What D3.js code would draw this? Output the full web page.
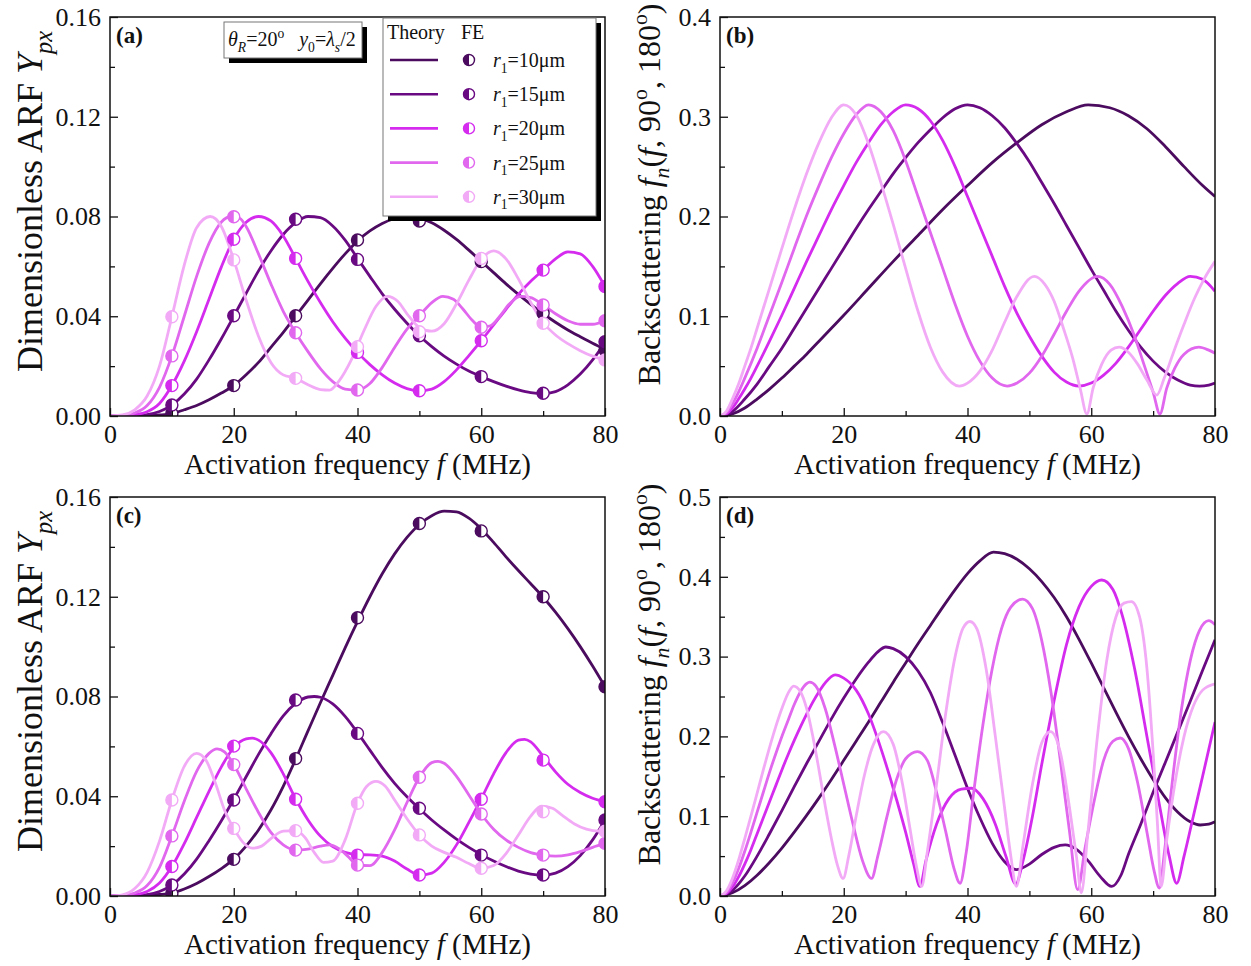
<!DOCTYPE html>
<html>
<head>
<meta charset="utf-8">
<script src="https://cdn.jsdelivr.net/npm/d3@7"></script>
<style>
  html, body { margin: 0; padding: 0; background: #fff; }
  svg text { font-family: "Liberation Serif", "Times New Roman", serif; fill: #111; }
</style>
</head>
<body>
<svg id="chart" width="1251" height="966"></svg>
<script>
// ---------- axis ticks ----------
const freqTicks = [0, 20, 40, 60, 80];
const freqMinor = [10, 30, 50, 70];
const arfTicks = [0, 0.04, 0.08, 0.12, 0.16];
const arfMinor = [0.02, 0.06, 0.10, 0.14];
const backTicksB = [0, 0.1, 0.2, 0.3, 0.4];
const backMinorB = [0.05, 0.15, 0.25, 0.35];
const backTicksD = [0, 0.1, 0.2, 0.3, 0.4, 0.5];
const backMinorD = [0.05, 0.15, 0.25, 0.35, 0.45];

// ---------- series ----------
const radii = ["10", "15", "20", "25", "30"];
const seriesColors = ["#4b0b5e", "#690a82", "#d42bef", "#e067ee", "#f2aaf6"];
const feFreq = [10, 20, 30, 40, 50, 60, 70, 80];

// (a) theory: [f (MHz), Ypx]
const arfA_r10 = [[0,0],[4,0],[6,0.0001],[8,0.0004],[10,0.0010],[12,0.0025],[14,0.0042],[16,0.0065],[18,0.0092],[20,0.0122],[22,0.0165],[24,0.0215],[26,0.0275],[28,0.0335],[30,0.0400],[32,0.0465],[34,0.0530],[36,0.0592],[38,0.0650],[40,0.0702],[42,0.0742],[44,0.0772],[46,0.0792],[48,0.0800],[50,0.0793],[52,0.0775],[54,0.0745],[56,0.0708],[58,0.0665],[60,0.0620],[62,0.0575],[64,0.0530],[66,0.0488],[68,0.0448],[70,0.0410],[72,0.0376],[74,0.0345],[76,0.0318],[78,0.0292],[80,0.0268]];
const arfA_r15 = [[0,0],[4,0.0001],[6,0.0005],[8,0.0018],[10,0.0044],[12,0.0088],[14,0.0148],[16,0.0225],[18,0.0310],[20,0.0400],[22,0.0492],[24,0.0582],[26,0.0662],[28,0.0728],[30,0.0775],[32,0.0800],[34,0.0795],[36,0.0762],[38,0.0705],[40,0.0632],[42,0.0560],[44,0.0490],[46,0.0428],[48,0.0372],[50,0.0322],[52,0.0278],[54,0.0240],[56,0.0208],[58,0.0180],[60,0.0158],[62,0.0138],[64,0.0120],[66,0.0105],[68,0.0094],[70,0.0090],[72,0.0098],[74,0.0125],[76,0.0168],[78,0.0225],[80,0.0295]];
const arfA_r20 = [[0,0],[2,0.0001],[4,0.0005],[6,0.0017],[8,0.0050],[10,0.0122],[12,0.0220],[14,0.0338],[16,0.0468],[18,0.0598],[20,0.0709],[22,0.0777],[24,0.0800],[26,0.0782],[28,0.0722],[30,0.0632],[32,0.0540],[34,0.0455],[36,0.0378],[38,0.0312],[40,0.0255],[42,0.0206],[44,0.0165],[46,0.0132],[48,0.0110],[50,0.0101],[52,0.0108],[54,0.0138],[56,0.0185],[58,0.0242],[60,0.0302],[62,0.0365],[64,0.0428],[66,0.0488],[68,0.0540],[70,0.0585],[72,0.0630],[74,0.0658],[76,0.0650],[78,0.0600],[80,0.0519]];
const arfA_r25 = [[0,0],[2,0.0002],[4,0.0012],[6,0.0042],[8,0.0115],[10,0.0241],[12,0.0400],[14,0.0560],[16,0.0692],[18,0.0778],[19.6,0.0800],[21,0.0792],[22,0.0760],[24,0.0650],[26,0.0530],[28,0.0420],[30,0.0334],[32,0.0258],[34,0.0190],[36,0.0138],[38,0.0108],[40,0.0104],[42,0.0130],[44,0.0195],[46,0.0275],[48,0.0348],[50,0.0402],[52,0.0455],[53.8,0.0480],[55.5,0.0468],[57,0.0430],[58.5,0.0385],[60,0.0356],[61.5,0.0362],[63,0.0400],[64.5,0.0448],[66.3,0.0480],[68,0.0475],[70,0.0445],[72,0.0410],[74,0.0382],[76,0.0368],[78,0.0368],[80,0.0382]];
const arfA_r30 = [[0,0],[2,0.0004],[4,0.0025],[6,0.0080],[8,0.0200],[10,0.0398],[12,0.0605],[14,0.0755],[16.2,0.0800],[18,0.0760],[20,0.0626],[22,0.0465],[24,0.0320],[26,0.0215],[28,0.0165],[30,0.0151],[32,0.0125],[34,0.0106],[35.5,0.0104],[37,0.0140],[39,0.0225],[41,0.0340],[43,0.0440],[44.8,0.0480],[46.5,0.0460],[48,0.0410],[50,0.0355],[52,0.0340],[54,0.0370],[56,0.0450],[58,0.0545],[60,0.0628],[62,0.0662],[64,0.0630],[66,0.0550],[68,0.0455],[70,0.0375],[72,0.0325],[74,0.0290],[76,0.0262],[78,0.0240],[80,0.0225]];

// (a) finite-element points at feFreq
const feA_r10 = [0.0010, 0.0122, 0.0402, 0.0706, 0.0782, 0.0619, 0.0412, 0.0265];
const feA_r15 = [0.0044, 0.0402, 0.0789, 0.0628, 0.0322, 0.0158, 0.0091, 0.0298];
const feA_r20 = [0.0122, 0.0709, 0.0632, 0.0255, 0.0101, 0.0302, 0.0585, 0.0519];
const feA_r25 = [0.0241, 0.0799, 0.0334, 0.0104, 0.0402, 0.0356, 0.0445, 0.0382];
const feA_r30 = [0.0398, 0.0626, 0.0151, 0.0278, 0.0338, 0.0632, 0.0372, 0.0225];

// (b) backscattering form function
const backB_r10 = [[0,0],[2,0.002],[4,0.008],[6,0.017],[8,0.027],[10,0.038],[12,0.050],[14,0.062],[16,0.075],[18,0.088],[20,0.101],[24,0.128],[28,0.155],[32,0.181],[36,0.207],[40,0.231],[44,0.254],[48,0.274],[52,0.292],[56,0.305],[59.5,0.312],[63,0.309],[66,0.301],[69,0.288],[72,0.270],[75,0.250],[78,0.231],[80,0.220]];
const backB_r15 = [[0,0],[2,0.0045],[4,0.017],[6,0.032],[8,0.050],[10,0.068],[12,0.088],[14,0.108],[16,0.128],[18,0.148],[20,0.168],[22,0.188],[24,0.207],[26,0.225],[28,0.243],[30,0.259],[32,0.274],[34,0.287],[36,0.299],[38,0.308],[40,0.312],[42,0.309],[44,0.301],[46,0.289],[48,0.273],[50,0.255],[52,0.234],[54,0.213],[56,0.191],[58,0.169],[60,0.147],[62,0.126],[64,0.105],[66,0.086],[68,0.069],[70,0.055],[72,0.044],[74,0.036],[76,0.031],[77.5,0.030],[79,0.031],[80,0.033]];
const backB_r20 = [[0,0],[1,0.002],[2,0.008],[3,0.017],[4,0.027],[5,0.038],[6,0.050],[8,0.075],[10,0.101],[12,0.128],[14,0.155],[16,0.181],[18,0.207],[20,0.231],[22,0.254],[24,0.274],[26,0.292],[28,0.305],[30,0.312],[32,0.308],[34,0.296],[36,0.276],[38,0.250],[40,0.220],[42,0.190],[44,0.160],[46,0.130],[48,0.103],[50,0.080],[52,0.060],[54,0.044],[56,0.034],[58,0.030],[60,0.033],[62,0.041],[64,0.053],[66,0.069],[68,0.087],[70,0.105],[72,0.121],[74,0.133],[76,0.140],[78,0.137],[80,0.125]];
const backB_r25 = [[0,0],[1,0.003],[2,0.012],[3,0.024],[4,0.038],[6,0.068],[8,0.101],[10,0.134],[12,0.168],[14,0.201],[16,0.231],[18,0.259],[20,0.283],[22,0.302],[24,0.312],[26,0.305],[28,0.286],[30,0.256],[32,0.220],[34,0.184],[36,0.148],[38,0.112],[40,0.080],[42,0.055],[44,0.038],[46.4,0.030],[48,0.033],[50,0.043],[52,0.060],[54,0.082],[56,0.105],[58,0.125],[61,0.140],[63,0.132],[65,0.110],[67,0.080],[68.5,0.052],[70,0.024],[71.1,0.002],[72.2,0.028],[73.5,0.048],[75,0.062],[77.4,0.069],[79,0.066],[80,0.063]];
const backB_r30 = [[0,0],[1,0.0045],[2,0.017],[3,0.032],[4,0.050],[5,0.068],[6,0.088],[8,0.128],[10,0.168],[12,0.207],[14,0.243],[16,0.274],[18,0.299],[20,0.312],[22,0.302],[24,0.273],[26,0.234],[28,0.192],[30,0.148],[32,0.105],[34,0.069],[36,0.044],[38.7,0.030],[40,0.033],[42,0.045],[44,0.066],[46,0.094],[48,0.120],[50.8,0.140],[52.5,0.132],[54,0.115],[55.5,0.088],[57,0.058],[58.2,0.028],[59.3,0.002],[60.3,0.028],[61.7,0.052],[63.2,0.066],[64.5,0.069],[66,0.064],[67.5,0.052],[69,0.036],[70.6,0.021],[71.8,0.038],[73.3,0.064],[75,0.092],[76.7,0.118],[78.3,0.138],[80,0.155]];

// (c) theory
const arfC_r10 = [[0,0],[4,0.0001],[6,0.0003],[8,0.0006],[10,0.0012],[12,0.0028],[14,0.0050],[16,0.0078],[18,0.0110],[20,0.0148],[22,0.0200],[24,0.0265],[26,0.0345],[28,0.0440],[30,0.0548],[32,0.0662],[34,0.0775],[36,0.0885],[38,0.0995],[40,0.1100],[42,0.1200],[44,0.1292],[46,0.1372],[48,0.1438],[50,0.1490],[52,0.1525],[54,0.1543],[56,0.1540],[58,0.1515],[60,0.1472],[62,0.1418],[64,0.1360],[66,0.1305],[68,0.1252],[70,0.1198],[72,0.1138],[74,0.1072],[76,0.1000],[78,0.0922],[80,0.0839]];
const arfC_r15 = [[0,0],[4,0.0001],[6,0.0005],[8,0.0018],[10,0.0044],[12,0.0088],[14,0.0148],[16,0.0222],[18,0.0302],[20,0.0388],[22,0.0478],[24,0.0568],[26,0.0650],[28,0.0722],[30,0.0772],[32,0.0798],[33,0.0800],[34,0.0797],[36,0.0770],[38,0.0720],[40,0.0655],[42,0.0585],[44,0.0515],[46,0.0452],[48,0.0398],[50,0.0350],[52,0.0305],[54,0.0265],[56,0.0228],[58,0.0195],[60,0.0166],[62,0.0140],[64,0.0118],[66,0.0100],[68,0.0088],[70,0.0084],[72,0.0092],[74,0.0118],[76,0.0162],[78,0.0225],[80,0.0305]];
const arfC_r20 = [[0,0],[2,0.0001],[4,0.0005],[6,0.0018],[8,0.0052],[10,0.0118],[12,0.0210],[14,0.0315],[16,0.0420],[18,0.0518],[20,0.0595],[22,0.0630],[23,0.0633],[24,0.0625],[26,0.0575],[28,0.0490],[30,0.0390],[32,0.0305],[34,0.0240],[36,0.0198],[38,0.0175],[40,0.0166],[42,0.0165],[44,0.0160],[46,0.0140],[48,0.0108],[50,0.0084],[52,0.0092],[54,0.0135],[56,0.0205],[58,0.0295],[60,0.0390],[62,0.0490],[64,0.0575],[66,0.0625],[67,0.0628],[68,0.0618],[70,0.0560],[72,0.0498],[74,0.0448],[76,0.0415],[78,0.0392],[80,0.0378]];
const arfC_r25 = [[0,0],[2,0.0002],[4,0.0012],[6,0.0042],[8,0.0115],[10,0.0241],[12,0.0380],[14,0.0500],[16,0.0572],[17.3,0.0590],[18.5,0.0578],[20,0.0527],[22,0.0430],[24,0.0335],[26,0.0255],[28,0.0205],[30,0.0184],[32,0.0188],[34,0.0200],[35.5,0.0205],[37,0.0190],[38.5,0.0158],[40,0.0124],[42,0.0122],[44,0.0175],[46,0.0265],[48,0.0375],[50,0.0476],[52,0.0535],[53,0.0540],[54,0.0532],[56,0.0480],[58,0.0405],[60,0.0329],[62,0.0268],[64,0.0225],[66,0.0195],[68,0.0174],[70,0.0164],[72,0.0160],[74,0.0165],[76,0.0178],[78,0.0195],[80,0.0211]];
const arfC_r30 = [[0,0],[2,0.0005],[4,0.0030],[6,0.0095],[8,0.0220],[10,0.0385],[12,0.0520],[14,0.0572],[15.5,0.0545],[17,0.0455],[18.5,0.0345],[20,0.0271],[21.5,0.0215],[23,0.0192],[24.5,0.0200],[26,0.0230],[28,0.0260],[30,0.0262],[31.5,0.0235],[33,0.0175],[34.5,0.0135],[36,0.0140],[38,0.0225],[40,0.0372],[41.5,0.0440],[43,0.0460],[44.5,0.0440],[46,0.0385],[48,0.0310],[50,0.0245],[52,0.0200],[54,0.0175],[56,0.0155],[58,0.0130],[60,0.0111],[62,0.0122],[64,0.0170],[66,0.0245],[68,0.0320],[69.7,0.0360],[71.5,0.0352],[73,0.0325],[75,0.0290],[77,0.0268],[79,0.0260],[80,0.0260]];

// (c) finite-element points
const feC_r10 = [0.0010, 0.0147, 0.0551, 0.1116, 0.1494, 0.1464, 0.1200, 0.0839];
const feC_r15 = [0.0044, 0.0385, 0.0786, 0.0652, 0.0352, 0.0164, 0.0084, 0.0305];
const feC_r20 = [0.0118, 0.0601, 0.0388, 0.0164, 0.0084, 0.0388, 0.0545, 0.0378];
const feC_r25 = [0.0241, 0.0527, 0.0184, 0.0124, 0.0476, 0.0329, 0.0164, 0.0211];
const feC_r30 = [0.0385, 0.0271, 0.0262, 0.0372, 0.0245, 0.0111, 0.0338, 0.0260];

// (d) backscattering form function
const backD_r10 = [[0,0],[2,0.004],[4,0.013],[6,0.026],[8,0.042],[10,0.060],[12,0.080],[14,0.101],[16,0.123],[18,0.146],[20,0.170],[22,0.194],[24,0.218],[26,0.243],[28,0.268],[30,0.292],[32,0.316],[34,0.339],[36,0.362],[38,0.384],[40,0.404],[42,0.420],[44.2,0.431],[46,0.429],[48,0.422],[50,0.410],[52,0.394],[54,0.374],[56,0.350],[58,0.322],[60,0.292],[62,0.261],[64,0.230],[66,0.200],[68,0.172],[70,0.146],[72,0.123],[74,0.105],[76,0.093],[77.6,0.089],[79,0.090],[80,0.093]];
const backD_r15 = [[0,0],[2,0.007],[4,0.025],[6,0.050],[8,0.078],[10,0.107],[12,0.137],[14,0.166],[16,0.194],[18,0.222],[20,0.248],[22,0.272],[24,0.293],[25.5,0.306],[26.8,0.312],[28,0.310],[30,0.300],[32,0.282],[34,0.255],[36,0.217],[38,0.176],[40,0.135],[42,0.098],[44,0.066],[46,0.043],[47.9,0.033],[50,0.040],[52,0.052],[54,0.061],[55.8,0.064],[57.5,0.059],[59.5,0.044],[61.5,0.024],[63.3,0.012],[64.8,0.026],[66,0.052],[68,0.090],[70,0.130],[72,0.168],[74,0.206],[76,0.244],[78,0.283],[80,0.321]];
const backD_r20 = [[0,0],[1,0.003],[2,0.011],[3,0.024],[4,0.040],[5,0.058],[6,0.078],[7,0.098],[8,0.118],[9,0.138],[10,0.158],[11,0.177],[12,0.195],[13,0.212],[14,0.228],[15,0.243],[16,0.256],[17,0.267],[18.6,0.277],[20,0.273],[22,0.258],[24,0.228],[26,0.185],[28,0.135],[30,0.080],[31.3,0.040],[32.3,0.012],[33.3,0.045],[35,0.090],[37,0.122],[39,0.134],[40.7,0.135],[42.5,0.122],[44.5,0.090],[46.2,0.050],[47.8,0.015],[49,0.045],[50.5,0.100],[52,0.165],[54,0.245],[56,0.315],[58,0.362],[60,0.388],[61.7,0.396],[63.5,0.384],[65,0.352],[67,0.285],[69,0.200],[71,0.115],[72.6,0.050],[73.8,0.016],[75,0.050],[76.5,0.100],[78,0.150],[80,0.218]];
const backD_r25 = [[0,0],[1,0.004],[2,0.016],[3,0.034],[4,0.056],[5,0.080],[6,0.105],[7,0.130],[8,0.155],[9,0.178],[10,0.200],[11,0.220],[12,0.240],[13,0.256],[14,0.266],[14.5,0.268],[15.5,0.263],[17,0.235],[18.5,0.190],[20,0.140],[21.5,0.090],[23,0.045],[24.5,0.022],[25.5,0.050],[27,0.100],[28.5,0.145],[30,0.172],[31.9,0.181],[33.5,0.170],[35,0.130],[36.5,0.080],[37.8,0.035],[38.8,0.016],[39.8,0.055],[41,0.130],[42.5,0.215],[44,0.285],[45.5,0.335],[47,0.362],[48.9,0.372],[50.5,0.360],[52,0.320],[53.5,0.255],[55,0.170],[56.5,0.080],[57.8,0.008],[59,0.060],[60.5,0.120],[62,0.170],[63.5,0.194],[64.7,0.198],[66,0.185],[67.5,0.142],[69,0.080],[70.2,0.030],[71,0.010],[71.9,0.060],[73.2,0.150],[74.6,0.235],[76,0.295],[77.5,0.333],[79,0.345],[80,0.340]];
const backD_r30 = [[0,0],[1,0.006],[2,0.022],[3,0.045],[4,0.072],[5,0.100],[6,0.129],[7,0.158],[8,0.186],[9,0.212],[10,0.235],[11,0.254],[11.9,0.263],[13,0.256],[14,0.235],[15,0.200],[16,0.158],[17,0.113],[18,0.072],[19,0.038],[19.9,0.022],[20.8,0.050],[22,0.100],[23.3,0.150],[24.8,0.190],[26.4,0.206],[28,0.190],[29.5,0.140],[30.8,0.080],[31.8,0.035],[32.6,0.012],[33.5,0.055],[35,0.140],[36.5,0.230],[38,0.300],[39.3,0.336],[40.4,0.344],[41.5,0.335],[43,0.285],[44.5,0.200],[46,0.110],[47,0.050],[47.9,0.012],[49,0.065],[50.5,0.140],[52,0.192],[53.4,0.206],[55,0.180],[56.5,0.110],[57.6,0.050],[58.4,0.004],[59.4,0.075],[61,0.200],[62.5,0.295],[64,0.350],[65.3,0.367],[66.5,0.369],[67.8,0.350],[69,0.285],[70,0.180],[70.7,0.090],[71.3,0.012],[72.2,0.070],[73.5,0.140],[75,0.200],[76.5,0.238],[78,0.258],[80,0.266]];

// ---------- layout ----------
const PW = 495, PH = 399;
const svg = d3.select("#chart");

const panels = [
  { tag: "(a)", left: 110, top: 17,  kind: "arf",  yMax: 0.16, ticks: arfTicks,   minor: arfMinor,   fmt: ".2f",
    curves: [arfA_r10, arfA_r15, arfA_r20, arfA_r25, arfA_r30], fe: [feA_r10, feA_r15, feA_r20, feA_r25, feA_r30] },
  { tag: "(b)", left: 720, top: 17,  kind: "back", yMax: 0.4,  ticks: backTicksB, minor: backMinorB, fmt: ".1f",
    curves: [backB_r10, backB_r15, backB_r20, backB_r25, backB_r30], fe: null },
  { tag: "(c)", left: 110, top: 497, kind: "arf",  yMax: 0.16, ticks: arfTicks,   minor: arfMinor,   fmt: ".2f",
    curves: [arfC_r10, arfC_r15, arfC_r20, arfC_r25, arfC_r30], fe: [feC_r10, feC_r15, feC_r20, feC_r25, feC_r30] },
  { tag: "(d)", left: 720, top: 497, kind: "back", yMax: 0.5,  ticks: backTicksD, minor: backMinorD, fmt: ".1f",
    curves: [backD_r10, backD_r15, backD_r20, backD_r25, backD_r30], fe: null }
];

// text with italic / sub / superscript runs
function richText(sel, parts, size) {
  let shift = 0;
  parts.forEach(p => {
    const ts = sel.append("tspan").text(p.t);
    const target = p.sub ? size * 0.28 : (p.sup ? -size * 0.4 : 0);
    if (target - shift !== 0) ts.attr("dy", target - shift);
    shift = target;
    if (p.sub || p.sup) ts.attr("font-size", size * 0.68);
    if (p.it) ts.attr("font-style", "italic");
  });
  return sel;
}

// half-filled circle marker (left half solid)
function halfMarker(g, cx, cy, r, color) {
  g.append("circle").attr("cx", cx).attr("cy", cy).attr("r", r)
    .attr("fill", "#fff").attr("stroke", color).attr("stroke-width", 1.4);
  g.append("path")
    .attr("d", `M${cx},${cy - r} A${r},${r} 0 0 0 ${cx},${cy + r} Z`)
    .attr("fill", color);
}

panels.forEach((p, i) => {
  const g = svg.append("g").attr("transform", `translate(${p.left},${p.top})`);
  const x = d3.scaleLinear().domain([0, 80]).range([0, PW]);
  const y = d3.scaleLinear().domain([0, p.yMax]).range([PH, 0]);

  const clipId = "clip" + i;
  g.append("clipPath").attr("id", clipId)
    .append("rect").attr("x", 0).attr("y", 0).attr("width", PW).attr("height", PH);
  const plot = g.append("g").attr("clip-path", `url(#${clipId})`);

  const line = d3.line().x(d => x(d[0])).y(d => y(d[1])).curve(d3.curveMonotoneX);
  p.curves.forEach((c, k) => {
    plot.append("path").datum(c).attr("d", line)
      .attr("fill", "none").attr("stroke", seriesColors[k]).attr("stroke-width", 2.8)
      .attr("stroke-linejoin", "round");
  });

  if (p.fe) {
    p.fe.forEach((vals, k) => {
      vals.forEach((v, j) => halfMarker(plot, x(feFreq[j]), y(v), 6, seriesColors[k]));
    });
  }

  // axes with inward ticks
  g.append("g").attr("transform", `translate(0,${PH})`)
    .call(d3.axisBottom(x).tickValues(freqTicks).tickSizeInner(-8).tickSizeOuter(0).tickPadding(9).tickFormat(d3.format("d")));
  g.append("g").attr("transform", `translate(0,${PH})`)
    .call(d3.axisBottom(x).tickValues(freqMinor).tickSizeInner(-5).tickSizeOuter(0).tickFormat(""));
  g.append("g")
    .call(d3.axisLeft(y).tickValues(p.ticks).tickSizeInner(-8).tickSizeOuter(0).tickPadding(9).tickFormat(d3.format(p.fmt)));
  g.append("g")
    .call(d3.axisLeft(y).tickValues(p.minor).tickSizeInner(-5).tickSizeOuter(0).tickFormat(""));
  g.selectAll(".domain").remove();
  g.selectAll(".tick line").attr("stroke", "#111").attr("stroke-width", 1.3);
  g.selectAll(".tick text").attr("font-size", 26).attr("font-family", "Liberation Serif, serif").attr("fill", "#111");

  // frame
  g.append("rect").attr("width", PW).attr("height", PH)
    .attr("fill", "none").attr("stroke", "#111").attr("stroke-width", 1.5);

  // panel tag
  g.append("text").attr("x", 6).attr("y", 26).attr("font-size", 23).attr("font-weight", "bold").text(p.tag);

  // x title
  richText(g.append("text").attr("x", PW / 2).attr("y", PH + 58).attr("text-anchor", "middle").attr("font-size", 29),
    [{ t: "Activation frequency " }, { t: "f", it: true }, { t: " (MHz)" }], 29);

  // y title
  if (p.kind === "arf") {
    const yt = g.append("text").attr("text-anchor", "middle").attr("font-size", 36)
      .attr("transform", `translate(-68,${PH / 2 - 15}) rotate(-90)`);
    richText(yt, [{ t: "Dimensionless ARF " }, { t: "Y", it: true }, { t: "px", it: true, sub: true }], 36);
  } else {
    const yt = g.append("text").attr("text-anchor", "middle").attr("font-size", 32)
      .attr("transform", `translate(-60,${PH / 2 - 22}) rotate(-90)`);
    richText(yt, [{ t: "Backscattering " }, { t: "f", it: true }, { t: "n", it: true, sub: true },
      { t: "(" }, { t: "f", it: true }, { t: ", 90" }, { t: "o", sup: true }, { t: ", 180" }, { t: "o", sup: true }, { t: ")" }], 32);
  }
});

// ---------- annotation box and legend in panel (a) ----------
const ann = svg.append("g");
ann.append("rect").attr("x", 229).attr("y", 27).attr("width", 138).attr("height", 36).attr("fill", "#000");
ann.append("rect").attr("x", 224).attr("y", 22).attr("width", 138).attr("height", 36)
  .attr("fill", "#fff").attr("stroke", "#777").attr("stroke-width", 1);
richText(ann.append("text").attr("x", 228).attr("y", 46).attr("font-size", 20),
  [{ t: "θ", it: true }, { t: "R", it: true, sub: true }, { t: "=20" }, { t: "o", sup: true },
   { t: "\u00a0\u00a0\u00a0" }, { t: "y", it: true }, { t: "0", sub: true }, { t: "=" }, { t: "λ", it: true }, { t: "s", it: true, sub: true }, { t: "/2" }], 20);

const leg = svg.append("g");
leg.append("rect").attr("x", 388).attr("y", 23).attr("width", 213).attr("height", 198).attr("fill", "#000");
leg.append("rect").attr("x", 383).attr("y", 18).attr("width", 213).attr("height", 198)
  .attr("fill", "#fff").attr("stroke", "#777").attr("stroke-width", 1);
leg.append("text").attr("x", 387).attr("y", 39).attr("font-size", 20).text("Theory");
leg.append("text").attr("x", 461).attr("y", 39).attr("font-size", 20).text("FE");
radii.forEach((r, k) => {
  const cy = 60 + k * 34.2;
  leg.append("line").attr("x1", 390).attr("x2", 438).attr("y1", cy).attr("y2", cy)
    .attr("stroke", seriesColors[k]).attr("stroke-width", 2.6);
  halfMarker(leg, 469, cy, 5.5, seriesColors[k]);
  richText(leg.append("text").attr("x", 493).attr("y", cy + 7).attr("font-size", 20),
    [{ t: "r", it: true }, { t: "1", sub: true }, { t: "=" + r + "μm" }], 20);
});
</script>
</body>
</html>
